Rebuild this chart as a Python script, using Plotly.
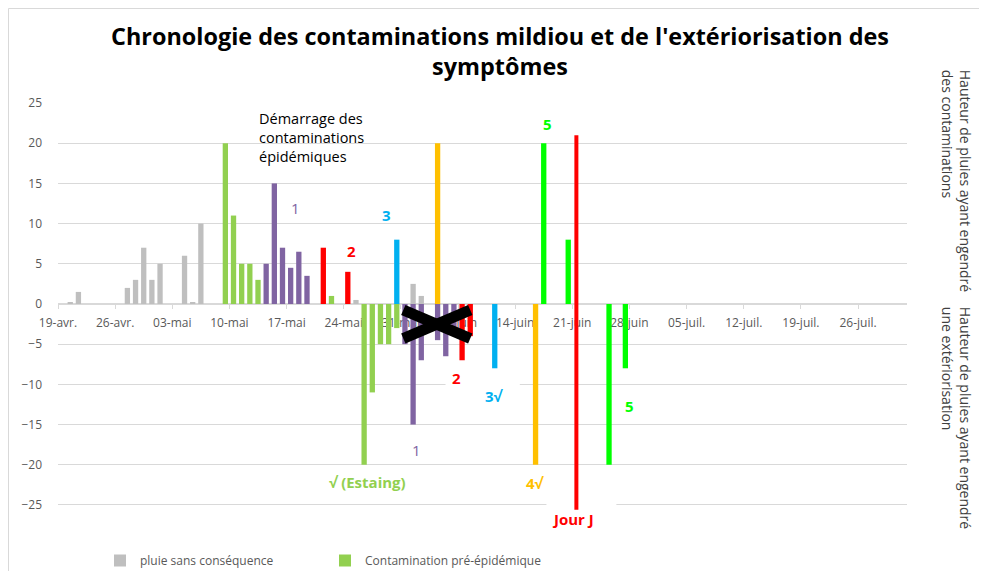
import plotly.graph_objects as go
from datetime import datetime, timedelta

# ---------------- data ----------------
tick_dates = ["2021-04-19", "2021-04-26", "2021-05-03", "2021-05-10", "2021-05-17",
              "2021-05-24", "2021-05-31", "2021-06-07", "2021-06-14", "2021-06-21",
              "2021-06-28", "2021-07-05", "2021-07-12", "2021-07-19", "2021-07-26"]
tick_labels = ["19-avr.", "26-avr.", "03-mai", "10-mai", "17-mai", "24-mai", "31-mai",
               "07-juin", "14-juin", "21-juin", "28-juin", "05-juil.", "12-juil.",
               "19-juil.", "26-juil."]

pluie_dates = ["2021-04-21", "2021-04-22", "2021-04-28", "2021-04-29", "2021-04-30",
               "2021-05-01", "2021-05-02", "2021-05-05", "2021-05-06", "2021-05-07",
               "2021-05-26", "2021-06-02", "2021-06-03"]
pluie_vals = [0.2, 1.5, 2, 3, 7, 3, 5, 6, 0.2, 10, 0.5, 2.5, 1]

preepi_dates = ["2021-05-10", "2021-05-11", "2021-05-12", "2021-05-13", "2021-05-14",
                "2021-05-23", "2021-05-27", "2021-05-28", "2021-05-29", "2021-05-30",
                "2021-05-31"]
preepi_vals = [20, 11, 5, 5, 3, 1, -20, -11, -5, -5, -3]

c1_dates = ["2021-05-15", "2021-05-16", "2021-05-17", "2021-05-18", "2021-05-19",
            "2021-05-20", "2021-06-01", "2021-06-02", "2021-06-03", "2021-06-05",
            "2021-06-06", "2021-06-07"]
c1_vals = [5, 15, 7, 4.5, 6.5, 3.5, -5, -15, -7, -4.5, -6.5, -3.5]

c2_dates = ["2021-05-22", "2021-05-25", "2021-06-08", "2021-06-09"]
c2_vals = [7, 4, -7, -4]

c3_dates = ["2021-05-31", "2021-06-12"]
c3_vals = [8, -8]

c4_dates = ["2021-06-05", "2021-06-17"]
c4_vals = [20, -20]

c5_dates = ["2021-06-18", "2021-06-21", "2021-06-26", "2021-06-28"]
c5_vals = [20, 8, -20, -8]

jourj_dates = ["2021-06-22", "2021-06-22"]
jourj_vals = [21, -25.6]

# ---------------- styling ----------------
FONT = "Open Sans"
GRID = "#D9D9D9"
TXT = "#595959"
BASE = datetime(2021, 4, 19)
DAY_MS = 86400000
BAR_W = 0.65 * DAY_MS

W, H = 979, 563          # page body has an 8px margin
L, R, T, B = 50, 80, 95, 58
PW, PH = W - L - R, H - T - B
Y0, Y1 = -26, 25


def d(offset):
    """date position from a day offset after 19 April (for labels / shapes)"""
    return (BASE + timedelta(days=offset)).strftime("%Y-%m-%d %H:%M:%S")


fig = go.Figure()

series = [
    ("pluie sans conséquence", pluie_dates, pluie_vals, "#BFBFBF", True),
    ("Contamination pré-épidémique", preepi_dates, preepi_vals, "#92D050", True),
    ("Contamination 1", c1_dates, c1_vals, "#8064A2", False),
    ("Contamination 2", c2_dates, c2_vals, "#FF0000", False),
    ("Contamination 3", c3_dates, c3_vals, "#00B0F0", False),
    ("Contamination 4", c4_dates, c4_vals, "#FFC000", False),
    ("Contamination 5", c5_dates, c5_vals, "#00FF00", False),
]
for name, xs, ys, col, show in series:
    fig.add_trace(go.Bar(x=xs, y=ys, name=name, marker_color=col,
                         marker_line_width=0, width=BAR_W, showlegend=show))

fig.add_trace(go.Scatter(x=jourj_dates, y=jourj_vals, mode="lines", name="Jour J",
                         line=dict(color="#FF0000", width=4), showlegend=False))

# ---------------- annotations ----------------
ann = []


def lab(text, off, y, color, size=15, bold=True, xanchor="center", **kw):
    t = f"<b>{text}</b>" if bold else text
    ann.append(dict(x=d(off), y=(y - Y0) / (Y1 - Y0), xref="x", yref="paper", text=t,
                    showarrow=False, xanchor=xanchor, yanchor="middle",
                    font=dict(family=FONT, size=size, color=color), **kw))


lab("Démarrage des<br>contaminations<br>épidémiques", 24.88, 20.75, "#000000",
    size=14.5, bold=False, xanchor="left", align="left")
lab("1", 29.65, 11.98, "#8064A2", bold=False)
lab("2", 36.51, 6.63, "#FF0000")
lab("3", 40.8, 11.1, "#00B0F0")
lab("5", 60.52, 22.4, "#00FF00")
lab("√ (Estaing)", 38.4, -22.2, "#92D050")
lab("1", 44.44, -18.2, "#8064A2", bold=False)
lab("2", 49.34, -9.2, "#FF0000")
lab("3√", 54.0, -11.5, "#00B0F0")
lab("4√", 59.05, -22.3, "#FFC000")
lab("Jour J", 63.6, -26.7, "#FF0000")
lab("5", 70.45, -12.7, "#00FF00")

# right-hand vertical titles (paper coords)
for text, cy in [("Hauteur de pluies ayant engendré<br>des contaminations", 173.5),
                 ("Hauteur de pluies ayant engendré<br>une extériorisation", 410.5)]:
    ann.append(dict(xref="paper", yref="paper", x=(948.7 - L) / PW, y=(T + PH - cy) / PH,
                    text=text, textangle=90, align="left", showarrow=False,
                    xanchor="center", yanchor="middle",
                    font=dict(family=FONT, size=14, color="#404040")))

shapes = [
    # white boxes behind labels
    dict(type="rect", xref="x", yref="y", x0=d(47.97), x1=d(57.07), y0=-11.3, y1=-8.55,
         fillcolor="white", line_width=0, layer="between"),
    dict(type="rect", xref="x", yref="y", x0=d(60.33), x1=d(68.9), y0=-26, y1=-24.3,
         fillcolor="white", line_width=0, layer="between"),
    # black cross
    dict(type="line", xref="x", yref="y", x0=d(42.8), x1=d(51.0), y0=-0.75, y1=-4.3,
         line=dict(color="black", width=11)),
    dict(type="line", xref="x", yref="y", x0=d(42.8), x1=d(51.0), y0=-4.3, y1=-0.75,
         line=dict(color="black", width=11)),
    # chart border
    dict(type="rect", xref="paper", yref="paper", x0=(0.5 - L) / PW, x1=1.2, y0=-0.3,
         y1=(T + PH - 0.5) / PH, line=dict(color=GRID, width=1),
         fillcolor="rgba(0,0,0,0)", layer="below"),
]

fig.update_layout(
    width=W, height=H,
    margin=dict(l=L, r=R, t=T, b=B, autoexpand=False),
    paper_bgcolor="white", plot_bgcolor="white",
    barmode="relative",
    font=dict(family=FONT, color=TXT),
    title=dict(text="<b>Chronologie des contaminations mildiou et de l'extériorisation des<br>symptômes</b>",
               x=492 / W, xanchor="center", xref="container",
               y=1 - 37 / H, yanchor="top", yref="container",
               font=dict(family=FONT, size=23.4, color="#000000")),
    xaxis=dict(type="date", range=[d(0.5), d(104.5)],
               tickvals=[t + " 12:00:00" for t in tick_dates], ticktext=tick_labels,
               showgrid=False, showline=True, linecolor=GRID, linewidth=1,
               ticks="outside", ticklen=4, tickcolor=GRID, ticklabelstandoff=4,
               anchor="free", position=26 / 51, layer="below traces",
               tickfont=dict(family=FONT, size=12, color=TXT)),
    yaxis=dict(range=[Y0, Y1], tickvals=list(range(-25, 30, 5)),
               showgrid=True, gridcolor=GRID, gridwidth=1, zeroline=False,
               showline=False, ticks="", ticklabelstandoff=15,
               tickfont=dict(family=FONT, size=12, color=TXT)),
    legend=dict(orientation="h", xref="container", yref="container",
                x=92 / W, y=1 - 538 / H, xanchor="left", yanchor="top",
                font=dict(family=FONT, size=12, color=TXT),
                entrywidth=180, entrywidthmode="pixels", itemwidth=30,
                bgcolor="rgba(0,0,0,0)"),
    annotations=ann,
    shapes=shapes,
)

fig.write_html("out.html")
